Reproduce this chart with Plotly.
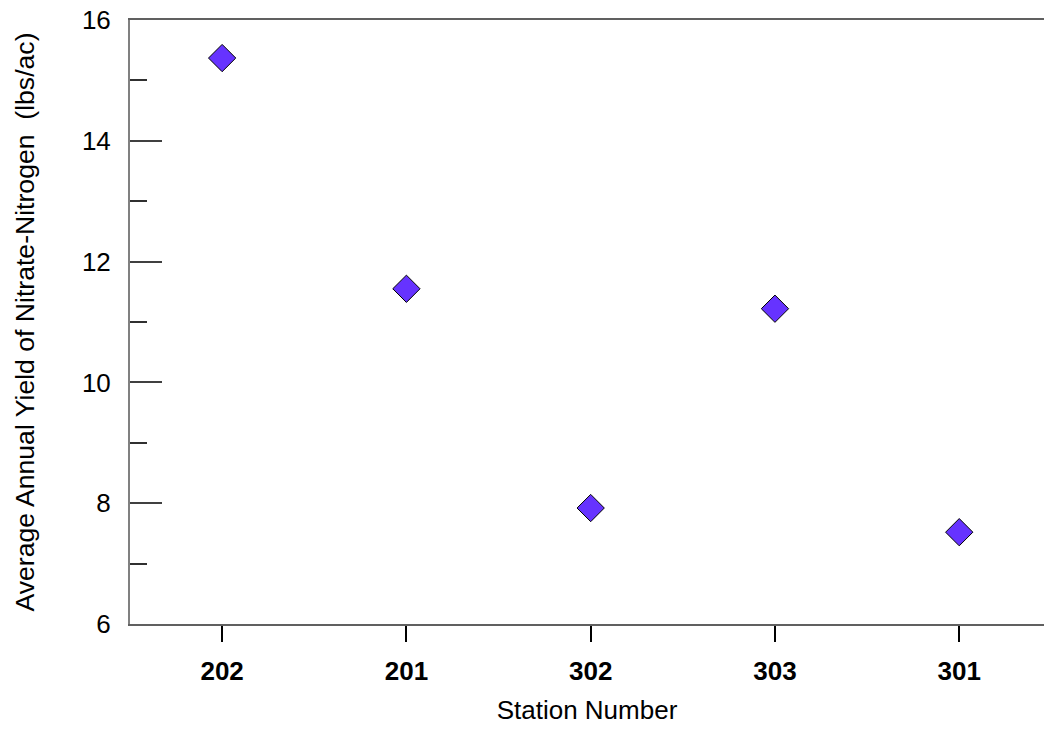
import plotly.graph_objects as go

# Average annual nitrate-nitrogen yield by monitoring station
stations = ["202", "201", "302", "303", "301"]
yield_lbs_ac = [15.37, 11.55, 7.92, 11.22, 7.52]

FONT = "Arial, Liberation Sans, Helvetica, sans-serif"

fig = go.Figure(
    go.Scatter(
        x=list(range(len(stations))),
        y=yield_lbs_ac,
        mode="markers",
        marker=dict(symbol="diamond", size=21, color="#6633FF",
                    line=dict(color="#000000", width=1)),
        hoverinfo="y",
    )
)

fig.update_layout(
    width=1044, height=732,
    margin=dict(l=130, r=0, t=20, b=108),
    paper_bgcolor="white", plot_bgcolor="white",
    showlegend=False,
    font=dict(family=FONT, color="#000000"),
    xaxis=dict(
        range=[-0.5, 4.46],
        tickmode="array",
        tickvals=list(range(len(stations))),
        ticktext=stations,
        tickfont=dict(size=26, weight="bold"),
        ticks="outside", ticklen=16, tickwidth=2, tickcolor="#000000",
        showline=True, linecolor="#606060", linewidth=2, mirror=True,
        showgrid=False, zeroline=False,
        ticklabelstandoff=7,
        title=dict(text="Station Number", font=dict(size=26), standoff=16),
    ),
    yaxis=dict(
        range=[6, 16],
        tickmode="linear", tick0=6, dtick=2,
        tickfont=dict(size=26),
        ticks="inside", ticklen=32, tickwidth=2, tickcolor="#404040",
        minor=dict(ticks="inside", ticklen=17, tickwidth=2, tickcolor="#303030",
                   dtick=1, showgrid=False),
        showline=True, linecolor="#808080", linewidth=2,
        showgrid=False, zeroline=False,
        ticklabelstandoff=12,
        title=dict(text="Average Annual Yield of Nitrate-Nitrogen  (lbs/ac)",
                   font=dict(size=26.6), standoff=40),
    ),
)

fig.write_html("out.html")
